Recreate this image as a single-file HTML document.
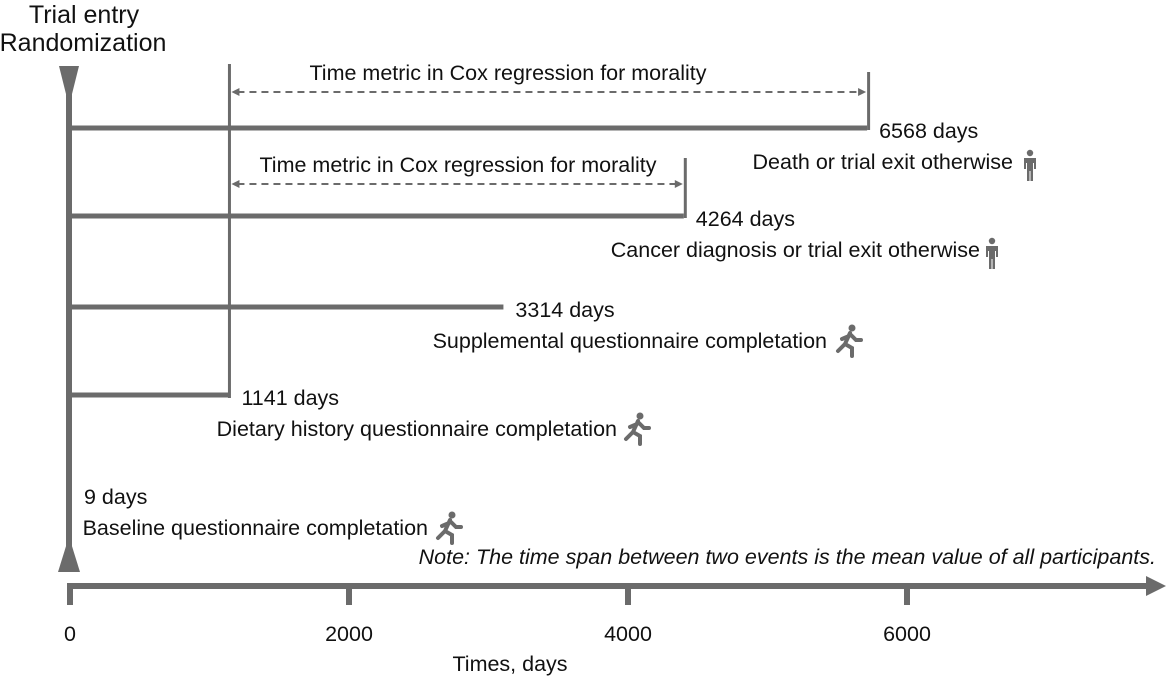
<!DOCTYPE html>
<html><head><meta charset="utf-8"><style>
html,body{margin:0;padding:0;background:#fff;}
svg{display:block;font-family:"Liberation Sans",Arial,sans-serif;}
</style></head><body>
<svg id="chart" width="1169" height="681" viewBox="0 0 1169 681"></svg>
<script>
const tickValues = [0, 2000, 4000, 6000];
const tickLabels = ["0", "2000", "4000", "6000"];
const eventDays = [6568, 4264, 3314, 1141, 9];
const eventDrawnEnd = [5714, 4400, 3107, 1143, 40];
const eventDayLabels = ["6568 days", "4264 days", "3314 days", "1141  days", "9 days"];
const eventNames = ["Death or trial exit otherwise", "Cancer diagnosis or trial exit otherwise", "Supplemental questionnaire completation", "Dietary history questionnaire completation", "Baseline questionnaire completation"];
const eventIcons = ["person", "person", "runner", "runner", "runner"];

const G = "#6b6b6b";
const FS = 21.5;
const svg = document.getElementById('chart');
const NS = "http://www.w3.org/2000/svg";
const x0 = 70, pxPerDay = 0.1395;
const xs = d => x0 + d * pxPerDay;
const rowY = [128, 216, 307, 395, 494];
function mk(tag, attrs, parent) {
  const e = document.createElementNS(NS, tag);
  for (const k in attrs) e.setAttribute(k, attrs[k]);
  (parent || svg).appendChild(e);
  return e;
}
function txt(s, attrs, name) {
  const t = mk('text', Object.assign({fill: "#111", "font-size": FS}, attrs));
  t.textContent = s;
  
  
  return t;
}
// title
txt("Trial entry", {x: 84, y: 23, "text-anchor": "middle", "font-size": 25}, "title-line-1");
txt("Randomization", {x: 83, y: 51, "text-anchor": "middle", "font-size": 25}, "title-line-2");
// vertical main line + triangles
let e = mk('rect', {x: 66, y: 70, width: 6, height: 500, fill: G});


e = mk('polygon', {points: "59,66 79,66 71,98 67,98", fill: G});


e = mk('polygon', {points: "67,543 71,543 80,572 58,572", fill: G});


// x axis
e = mk('rect', {x: 67, y: 583, width: 1085, height: 6, fill: G});


e = mk('polygon', {points: "1146,576 1166,586 1146,596", fill: G});


tickValues.forEach((v, i) => {
  const x = xs(v);
  const t = mk('rect', {x: x - 3, y: 583, width: 6, height: 22, fill: G});
  
  
  txt(tickLabels[i], {x: x, y: 641, "text-anchor": "middle"}, 'x-tick-label-' + tickLabels[i]);
});
txt("Times, days", {x: 510, y: 671, "text-anchor": "middle"}, "x-axis-title");
txt("Note: The time span between two events is the mean value of all participants.", {x: 1156, y: 564, "text-anchor": "end", "font-style": "italic"}, "note-text");
// vertical reference at dietary questionnaire
const refX = xs(eventDrawnEnd[3]);
e = mk('rect', {x: refX - 1.5, y: 64, width: 3, height: 334, fill: G});



function person(x, y, g) {
  mk('circle', {cx: x, cy: y - 24, r: 3.2, fill: G}, g);
  mk('path', {d: `M${x-6},${y-19} h12 v11 h-2 v-6 h-1 v18 h-2.5 v-10 h-1 v10 h-2.5 v-18 h-1 v6 h-2z`, fill: G}, g);
}
function runner(x, y, g) {
  mk('circle', {cx: x + 4, cy: y - 25, r: 3.5, fill: G}, g);
  mk('path', {d: `M${x+2},${y-20} L${x-3},${y-9} L${x-10},${y-2} M${x-3},${y-9} L${x+4},${y-5} L${x+4},${y+3} M${x+1},${y-17} L${x-6},${y-14} M${x+3},${y-18} L${x+8},${y-13} L${x+13},${y-13}`, stroke: G, "stroke-width": 4, fill: "none", "stroke-linecap": "round"}, g);
}
const iconX = [1030, 992, 848, 636, 448];
const nameEndX = [1013, 980, 827, 617, 428];
eventDays.forEach((d, i) => {
  const y = rowY[i];
  const g = mk('g', {});
  
  
  const xe = xs(eventDrawnEnd[i]);
  if (i < 4) {
    const b = mk('rect', {x: 70, y: y - 2.5, width: xe - 70, height: 5, fill: G}, g);
    
    
  } else {
    const b = mk('rect', {x: 70, y: y - 1.5, width: xe - 70 - 32, height: 3, fill: G}, g);
    
    
  }
  const lx = i < 4 ? xe + 12 : 84;
  txt(eventDayLabels[i], {x: lx, y: y + 10}, 'event-days-label-' + i);
  txt(eventNames[i], {x: nameEndX[i], y: y + 41, "text-anchor": "end"}, 'event-name-' + i);
  const ig = mk('g', {}, g);
  
  
  if (eventIcons[i] === 'person') person(iconX[i], y + 49, ig); else runner(iconX[i], y + 46, ig);
  if (i < 2) {
    const endTickTop = y - (i === 0 ? 56 : 58);
    const et = mk('rect', {x: xe, y: endTickTop, width: 3, height: y - endTickTop + 2, fill: G}, g);
    
    
    const ay = y - (i === 0 ? 36 : 32);
    const ln = mk('line', {x1: refX + 8, y1: ay, x2: xe - 7, y2: ay, stroke: G, "stroke-width": 2, "stroke-dasharray": "7,5"}, g);
    
    
    mk('polygon', {points: `${refX+2},${ay} ${refX+10},${ay-4} ${refX+10},${ay+4}`, fill: G}, g);
    mk('polygon', {points: `${xe-1},${ay} ${xe-9},${ay-4} ${xe-9},${ay+4}`, fill: G}, g);
    txt("Time metric in Cox regression for morality", {x: (i === 0 ? 508 : 458), y: ay - 12, "text-anchor": "middle"}, 'cox-label-' + i);
  }
});
</script>
</body></html>
